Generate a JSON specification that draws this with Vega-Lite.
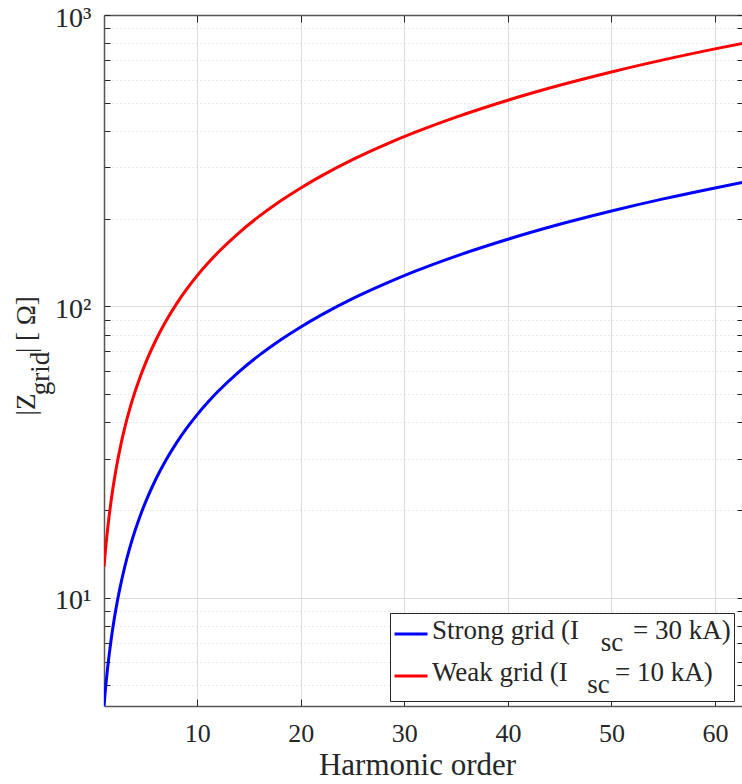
{
  "$schema": "https://vega.github.io/schema/vega-lite/v6.json",
  "width": 639,
  "height": 691,
  "autosize": {"type": "none"},
  "padding": {"left": 104, "top": 15, "right": 0, "bottom": 78},
  "background": "white",
  "config": {"font": "Liberation Serif", "view": {"stroke": null}},
  "data": {
    "values": [
      {"h": 1, "z": 4.25, "grid": "Strong"}, {"h": 1.1, "z": 4.68, "grid": "Strong"}, {"h": 1.2, "z": 5.1, "grid": "Strong"},
      {"h": 1.35, "z": 5.74, "grid": "Strong"}, {"h": 1.5, "z": 6.38, "grid": "Strong"}, {"h": 1.7, "z": 7.23, "grid": "Strong"},
      {"h": 2, "z": 8.5, "grid": "Strong"}, {"h": 2.3, "z": 9.78, "grid": "Strong"}, {"h": 2.6, "z": 11.05, "grid": "Strong"},
      {"h": 3, "z": 12.75, "grid": "Strong"}, {"h": 3.5, "z": 14.88, "grid": "Strong"}, {"h": 4, "z": 17, "grid": "Strong"},
      {"h": 4.5, "z": 19.13, "grid": "Strong"}, {"h": 5, "z": 21.25, "grid": "Strong"}, {"h": 6, "z": 25.5, "grid": "Strong"},
      {"h": 7, "z": 29.75, "grid": "Strong"}, {"h": 8, "z": 34, "grid": "Strong"}, {"h": 9, "z": 38.25, "grid": "Strong"},
      {"h": 10, "z": 42.5, "grid": "Strong"}, {"h": 11, "z": 46.75, "grid": "Strong"}, {"h": 12, "z": 51, "grid": "Strong"},
      {"h": 14, "z": 59.5, "grid": "Strong"}, {"h": 16, "z": 68, "grid": "Strong"}, {"h": 18, "z": 76.5, "grid": "Strong"},
      {"h": 20, "z": 85, "grid": "Strong"}, {"h": 22, "z": 93.5, "grid": "Strong"}, {"h": 25, "z": 106.3, "grid": "Strong"},
      {"h": 28, "z": 119, "grid": "Strong"}, {"h": 31, "z": 131.8, "grid": "Strong"}, {"h": 35, "z": 148.8, "grid": "Strong"},
      {"h": 40, "z": 170, "grid": "Strong"}, {"h": 45, "z": 191.3, "grid": "Strong"}, {"h": 50, "z": 212.5, "grid": "Strong"},
      {"h": 55, "z": 233.8, "grid": "Strong"}, {"h": 60, "z": 255, "grid": "Strong"}, {"h": 63, "z": 267.8, "grid": "Strong"},
      {"h": 1, "z": 12.75, "grid": "Weak"}, {"h": 1.1, "z": 14.03, "grid": "Weak"}, {"h": 1.2, "z": 15.3, "grid": "Weak"},
      {"h": 1.35, "z": 17.21, "grid": "Weak"}, {"h": 1.5, "z": 19.13, "grid": "Weak"}, {"h": 1.7, "z": 21.68, "grid": "Weak"},
      {"h": 2, "z": 25.5, "grid": "Weak"}, {"h": 2.3, "z": 29.33, "grid": "Weak"}, {"h": 2.6, "z": 33.15, "grid": "Weak"},
      {"h": 3, "z": 38.25, "grid": "Weak"}, {"h": 3.5, "z": 44.63, "grid": "Weak"}, {"h": 4, "z": 51, "grid": "Weak"},
      {"h": 4.5, "z": 57.38, "grid": "Weak"}, {"h": 5, "z": 63.75, "grid": "Weak"}, {"h": 6, "z": 76.5, "grid": "Weak"},
      {"h": 7, "z": 89.25, "grid": "Weak"}, {"h": 8, "z": 102, "grid": "Weak"}, {"h": 9, "z": 114.75, "grid": "Weak"},
      {"h": 10, "z": 127.5, "grid": "Weak"}, {"h": 11, "z": 140.25, "grid": "Weak"}, {"h": 12, "z": 153, "grid": "Weak"},
      {"h": 14, "z": 178.5, "grid": "Weak"}, {"h": 16, "z": 204, "grid": "Weak"}, {"h": 18, "z": 229.5, "grid": "Weak"},
      {"h": 20, "z": 255, "grid": "Weak"}, {"h": 22, "z": 280.5, "grid": "Weak"}, {"h": 25, "z": 318.8, "grid": "Weak"},
      {"h": 28, "z": 357, "grid": "Weak"}, {"h": 31, "z": 395.3, "grid": "Weak"}, {"h": 35, "z": 446.3, "grid": "Weak"},
      {"h": 40, "z": 510, "grid": "Weak"}, {"h": 45, "z": 573.8, "grid": "Weak"}, {"h": 50, "z": 637.5, "grid": "Weak"},
      {"h": 55, "z": 701.3, "grid": "Weak"}, {"h": 60, "z": 765, "grid": "Weak"}, {"h": 63, "z": 803.3, "grid": "Weak"}
    ]
  },
  "layer": [
    {
      "mark": {"type": "line", "strokeWidth": 3, "clip": true, "interpolate": "monotone"},
      "encoding": {
        "x": {
          "field": "h", "type": "quantitative",
          "scale": {"domain": [1, 62.7], "nice": false, "zero": false},
          "axis": {
            "orient": "bottom",
            "values": [10, 20, 30, 40, 50, 60],
            "grid": true, "gridColor": "#dcdcdc", "gridWidth": 1,
            "domainColor": "#555555", "domainWidth": 1.5,
            "tickColor": "#262626", "tickSize": -7, "tickWidth": 1,
            "labelFont": "Liberation Serif", "labelFontSize": 26, "labelColor": "#262626", "labelPadding": 21,
            "labelFlush": false,
            "title": "Harmonic order", "titleFont": "Liberation Serif", "titleFontSize": 31,
            "titleFontWeight": "normal", "titleColor": "#262626", "titlePadding": 4, "titleX": 313
          }
        },
        "y": {
          "field": "z", "type": "quantitative",
          "scale": {"type": "log", "domain": [4.25, 1000], "nice": false},
          "axis": {
            "orient": "left",
            "values": [5, 6, 7, 8, 9, 10, 20, 30, 40, 50, 60, 70, 80, 90, 100, 200, 300, 400, 500, 600, 700, 800, 900, 1000],
            "labelExpr": "datum.value == 10 ? '10\u00b9' : datum.value == 100 ? '10\u00b2' : datum.value == 1000 ? '10\u00b3' : ''",
            "grid": true,
            "gridColor": {"condition": {"test": "datum.value == 10 || datum.value == 100 || datum.value == 1000", "value": "#dcdcdc"}, "value": "#d2d2d2"},
            "gridDash": {"condition": {"test": "datum.value == 10 || datum.value == 100 || datum.value == 1000", "value": []}, "value": [1, 3]},
            "domainColor": "#555555", "domainWidth": 1.5,
            "tickColor": "#262626", "tickSize": -6, "tickWidth": 1,
            "labelFont": "Liberation Serif", "labelFontSize": 28, "labelColor": "#262626", "labelPadding": 19,
            "labelFlush": false, "labelOverlap": false, "labelBaseline": "middle", "labelOffset": 3,
            "title": ["|Z\u00a0\u00a0\u00a0\u00a0\u00a0\u00a0| [ \u03a9]", "\u200b\u00a0\u00a0\u00a0grid"],
            "titleFont": "Liberation Serif", "titleFontSize": 27, "titleFontWeight": "normal", "titleColor": "#262626",
            "titleAngle": -90, "titleAlign": "left", "titleBaseline": "middle", "titleLineHeight": 14,
            "titleX": -78, "titleY": 400
          }
        },
        "color": {
          "field": "grid", "type": "nominal",
          "scale": {"domain": ["Strong", "Weak"], "range": ["#0000ff", "#ff0000"]},
          "legend": {
            "orient": "none", "legendX": 286, "legendY": 598,
            "title": null, "direction": "vertical",
            "strokeColor": "#262626", "fillColor": "white", "padding": 3, "cornerRadius": 0,
            "symbolType": "stroke", "symbolSize": 1089, "symbolStrokeWidth": 3,
            "labelFont": "Liberation Serif", "labelFontSize": 27, "labelColor": "#262626", "labelOffset": 3,
            "labelLimit": 500, "rowPadding": 2,
            "labelExpr": "datum.label == 'Strong' ? ['Strong grid (I\u00a0\u00a0\u00a0\u00a0\u00a0\u00a0\u00a0\u00a0= 30 kA)', '\u200b\u00a0\u00a0\u00a0\u00a0\u00a0\u00a0\u00a0\u00a0\u00a0\u00a0\u00a0\u00a0\u00a0\u00a0\u00a0\u00a0\u00a0\u00a0\u00a0\u00a0\u00a0\u00a0\u00a0\u00a0\u00a0sc'] : ['Weak grid (I\u00a0\u00a0\u00a0\u00a0\u00a0\u00a0\u00a0= 10 kA)', '\u200b\u00a0\u00a0\u00a0\u00a0\u00a0\u00a0\u00a0\u00a0\u00a0\u00a0\u00a0\u00a0\u00a0\u00a0\u00a0\u00a0\u00a0\u00a0\u00a0\u00a0\u00a0\u00a0\u00a0sc']",
            "encode": {"labels": {"update": {"lineHeight": {"value": 12}, "dy": {"value": -3}}}}
          }
        }
      }
    },
    {
      "mark": {"type": "line", "opacity": 0},
      "encoding": {
        "x": {
          "field": "h", "type": "quantitative",
          "axis": {
            "orient": "top", "values": [10, 20, 30, 40, 50, 60], "labels": false, "grid": false,
            "domainColor": "#555555", "domainWidth": 1.5, "tickColor": "#262626", "tickSize": -7, "title": null
          }
        },
        "y": {
          "field": "z", "type": "quantitative",
          "axis": {
            "orient": "right",
            "values": [5, 6, 7, 8, 9, 10, 20, 30, 40, 50, 60, 70, 80, 90, 100, 200, 300, 400, 500, 600, 700, 800, 900, 1000],
            "labels": false, "grid": false,
            "domainColor": "#555555", "domainWidth": 1.5, "tickColor": "#262626", "tickSize": -6, "title": null
          }
        }
      }
    }
  ],
  "resolve": {"axis": {"x": "independent", "y": "independent"}}
}
